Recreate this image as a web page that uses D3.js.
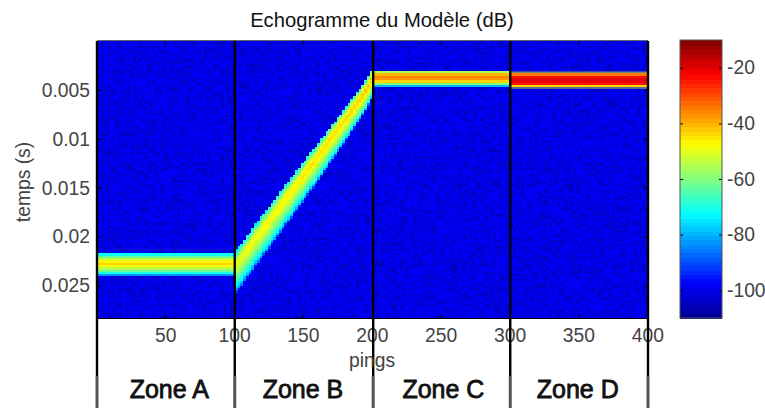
<!DOCTYPE html>
<html>
<head>
<meta charset="utf-8">
<script src="https://cdn.jsdelivr.net/npm/d3@7"></script>
<style>
  html, body { margin: 0; padding: 0; background: #fff; }
  svg { display: block; }
  text { font-family: "Liberation Sans", Arial, sans-serif; }
</style>
</head>
<body>
<script>
// values (times in ms, levels in dB)
const xTicks = [50, 100, 150, 200, 250, 300, 350, 400];
const yTicks = [0.005, 0.01, 0.015, 0.02, 0.025];
const cbTicks = [-20, -40, -60, -80, -100];
const zoneNames = ['Zone A', 'Zone B', 'Zone C', 'Zone D'];
const zoneEdges = [0.5, 100.5, 201, 300.5, 400.5];
const zoneLabelPings = [53, 150, 252, 349.5];

// band start and thickness in each flat zone
const zoneTop = [21.75, 0, 2.95, 3.2];
const zoneWidth = [2.4, 0, 1.85, 1.6];

// level across the band, top to bottom
const profileA = [-74, -66, -60, -54, -48, -44, -44, -48, -54, -60, -66, -72, -85, -100];
const profileB = [-72, -62, -54, -48, -44, -45, -48, -52, -56, -60, -65, -70, -78, -100];
const profileC = [-72, -62, -52, -42, -37, -36, -36, -38, -42, -50, -60, -70, -85, -100];
const profileD = [-66, -48, -30, -25, -22, -20, -20, -20, -21, -23, -26, -34, -60, -100];

// zone B, one value per 2 pings
const rampTop = [21.3, 21.0, 20.7, 20.2, 19.8, 19.5, 19.1, 18.7, 18.4, 18.0,
  17.6, 17.3, 16.9, 16.5, 16.2, 15.8, 15.4, 15.1, 14.7, 14.4,
  14.0, 13.6, 13.3, 12.9, 12.5, 12.2, 11.8, 11.4, 11.1, 10.8,
  10.4, 10.0, 9.6, 9.3, 8.9, 8.5, 8.2, 7.8, 7.5, 7.1,
  6.7, 6.4, 6.0, 5.6, 5.2, 4.9, 4.5, 4.1, 3.6, 3.0];
const rampWidth = [4.5, 4.5, 4.5, 4.5, 4.5, 4.5, 4.5, 4.4, 4.4, 4.4,
  4.4, 4.4, 4.4, 4.3, 4.3, 4.3, 4.3, 4.2, 4.2, 4.2,
  4.2, 4.1, 4.1, 4.1, 4.1, 4.0, 4.0, 4.0, 4.0, 3.9,
  3.9, 3.9, 3.8, 3.8, 3.7, 3.7, 3.6, 3.6, 3.5, 3.5,
  3.4, 3.4, 3.3, 3.3, 3.2, 3.2, 3.1, 3.1, 3.0, 3.0];
const rampGain = [-6, -5, -5, -5, -4, -4, -4, -4, -4, -3,
  -3, -3, -3, -3, -3, -3, -2, -2, -2, -2,
  -2, -2, -2, -2, -1, -1, -1, -1, -1, -1,
  -1, -1, 0, 0, 0, 0, 0, 0, 0, 0,
  1, 1, 1, 1, 1, 1, 2, 2, 2, 2];

// background level, hand-picked speckle
const noiseDb = [-100, -103, -99, -101, -104, -98, -100, -102, -98, -103,
  -99, -101, -100, -105, -98, -102, -99, -103, -100, -98,
  -101, -103, -99, -100, -102, -98, -104, -101, -99, -103,
  -100, -98, -102, -100, -103, -99, -98, -101, -103, -100,
  -105, -99, -101, -98, -102, -100, -103, -99, -100, -103,
  -98, -101, -99, -104, -100, -102, -98, -100, -103, -99,
  -101, -103, -100, -98, -102, -99, -100, -105, -98, -101,
  -103, -100, -99, -102, -98, -103, -100, -101, -98, -103,
  -99, -100, -104, -101, -98, -102, -100, -99, -103, -100,
  -101, -98, -103, -99, -102, -100, -98, -104, -100, -101, -99];

const jetStops = ['#00008f', '#0000ff', '#00ffff', '#ffff00', '#ff0000', '#800000'];
const jetPos = [0, 0.125, 0.375, 0.625, 0.875, 1];

const w = 765;
const h = 408;
const plot = { left: 97, right: 648, top: 41, bottom: 318 };
const bar = { left: 680, right: 722, top: 40, bottom: 318 };
const nCols = 200;
const nRows = 120;
const rowMs = 28.3 / nRows;

const xScale = d3.scaleLinear().domain([0.5, 400.5]).range([plot.left, plot.right]);
const yScale = d3.scaleLinear().domain([0, 0.0283]).range([plot.top, plot.bottom]);
const cbScale = d3.scaleLinear().domain([-110, -10]).range([bar.bottom, bar.top]);

const jet = d3.scaleLinear().domain(jetPos).range(jetStops).interpolate(d3.interpolateRgb);
const jetLevels = d3.range(64);
const colorScale = d3.scaleQuantize().domain([-110, -10]).range(jetLevels.map((i) => jet((i + 0.5) / 64)));

const profiles = [profileA, profileB, profileC, profileD];

const cells = [];
d3.range(nCols).forEach((col) => {
  const zone = Math.floor(col / 50);
  const inRamp = zone === 1;
  const top = inRamp ? rampTop[col - 50] : zoneTop[zone];
  const width = inRamp ? rampWidth[col - 50] : zoneWidth[zone];
  const gain = inRamp ? rampGain[col - 50] : 0;
  const prof = profiles[zone];
  d3.range(nRows).forEach((row) => {
    const ms = (row + 0.5) * rowMs;
    const pos = ((ms - top) / width) * (prof.length - 1);
    const noise = noiseDb[(col * 31 + row * 17 + (col * row) % 7) % noiseDb.length];
    let db = noise;
    if (pos >= 0 && pos <= prof.length - 1) {
      const i = Math.min(Math.floor(pos), prof.length - 2);
      const level = prof[i] + (prof[i + 1] - prof[i]) * (pos - i) + gain;
      db = Math.max(noise, level);
    }
    cells.push({ col, row, db });
  });
});

const svg = d3.select('body').append('svg').attr('width', w).attr('height', h);

const defs = svg.append('defs');
defs.append('filter').attr('id', 'soft')
  .attr('x', 0).attr('y', 0).attr('width', 1).attr('height', 1)
  .append('feGaussianBlur').attr('stdDeviation', 0.55);

const colW = (plot.right - plot.left) / nCols;
const rowH = (plot.bottom - plot.top) / nRows;
svg.append('g').attr('id', 'echogram')
  .attr('shape-rendering', 'crispEdges')
  .attr('filter', 'url(#soft)')
  .selectAll('rect')
  .data(cells)
  .enter()
  .append('rect')
  .attr('x', (d) => xScale(0.5 + d.col * 2))
  .attr('y', (d) => yScale((d.row * rowMs) / 1000))
  .attr('width', colW + 0.5)
  .attr('height', rowH + 0.5)
  .attr('fill', (d) => colorScale(d.db));

// grey fringe along the zone D band
svg.append('g').selectAll('line').data([zoneTop[3], zoneTop[3] + zoneWidth[3]]).enter().append('line')
  .attr('x1', xScale(zoneEdges[3])).attr('x2', plot.right)
  .attr('y1', (d) => yScale(d / 1000)).attr('y2', (d) => yScale(d / 1000))
  .attr('stroke', '#7f8a78').attr('stroke-width', 1.4);

// frame and ticks
const tickCol = '#444';
const styleAxis = (g, labels) => {
  g.select('.domain').remove();
  g.selectAll('.tick line').attr('stroke', '#000');
  if (!labels) g.selectAll('.tick text').remove();
  g.selectAll('.tick text')
    .attr('fill', tickCol)
    .attr('font-size', 19.3)
    .attr('font-family', '"Liberation Sans", Arial, sans-serif');
};

svg.append('g').attr('transform', `translate(0,${plot.bottom})`)
  .call(d3.axisBottom(xScale).tickValues(xTicks).tickSizeInner(-4).tickSizeOuter(0).tickPadding(10))
  .call(styleAxis, true);
svg.append('g').attr('transform', `translate(0,${plot.top})`)
  .call(d3.axisTop(xScale).tickValues(xTicks).tickSizeInner(-4).tickSizeOuter(0))
  .call(styleAxis, false);
svg.append('g').attr('transform', `translate(${plot.left},0)`)
  .call(d3.axisLeft(yScale).tickValues(yTicks).tickFormat((d) => String(d)).tickSizeInner(-5).tickSizeOuter(0).tickPadding(7))
  .call(styleAxis, true);
svg.append('g').attr('transform', `translate(${plot.right},0)`)
  .call(d3.axisRight(yScale).tickValues(yTicks).tickSizeInner(-4).tickSizeOuter(0))
  .call(styleAxis, false);

svg.append('line').attr('x1', plot.left).attr('x2', plot.right).attr('y1', plot.top - 0.5).attr('y2', plot.top - 0.5).attr('stroke', '#666');
svg.append('line').attr('x1', plot.left).attr('x2', plot.right).attr('y1', plot.bottom + 0.5).attr('y2', plot.bottom + 0.5).attr('stroke', '#000');

// zone separators run past the axis
const seps = svg.append('g').attr('id', 'zones');
seps.selectAll('line.upper').data(zoneEdges).enter().append('line')
  .attr('class', 'upper')
  .attr('x1', (d) => xScale(d)).attr('x2', (d) => xScale(d))
  .attr('y1', plot.top).attr('y2', 376)
  .attr('stroke', '#000').attr('stroke-width', 2.4);
seps.selectAll('line.lower').data(zoneEdges).enter().append('line')
  .attr('class', 'lower')
  .attr('x1', (d) => xScale(d)).attr('x2', (d) => xScale(d))
  .attr('y1', 376).attr('y2', h)
  .attr('stroke', '#555').attr('stroke-width', 3);

seps.selectAll('text').data(zoneNames).enter().append('text')
  .attr('x', (d, i) => xScale(zoneLabelPings[i]))
  .attr('y', 398)
  .attr('text-anchor', 'middle')
  .attr('font-size', 25)
  .attr('fill', '#111')
  .attr('stroke', '#111')
  .attr('stroke-width', 0.8)
  .text((d) => d);

// colorbar
svg.append('g').attr('id', 'colorbar')
  .attr('shape-rendering', 'crispEdges')
  .selectAll('rect')
  .data(jetLevels)
  .enter()
  .append('rect')
  .attr('x', bar.left)
  .attr('y', (i) => cbScale(-110 + ((i + 1) * 100) / 64))
  .attr('width', bar.right - bar.left)
  .attr('height', (bar.bottom - bar.top) / 64 + 0.5)
  .attr('fill', (i) => jet((i + 0.5) / 64));

svg.append('g').attr('transform', `translate(${bar.right},0)`)
  .call(d3.axisRight(cbScale).tickValues(cbTicks).tickFormat((d) => String(d)).tickSizeInner(-3).tickSizeOuter(0).tickPadding(5))
  .call(styleAxis, true);
svg.append('g').attr('transform', `translate(${bar.left},0)`)
  .call(d3.axisLeft(cbScale).tickValues(cbTicks).tickSizeInner(-3).tickSizeOuter(0))
  .call(styleAxis, false);

svg.append('rect')
  .attr('x', bar.left).attr('y', bar.top)
  .attr('width', bar.right - bar.left).attr('height', bar.bottom - bar.top)
  .attr('fill', 'none').attr('stroke', '#555');

// titles
svg.append('text')
  .attr('x', 382).attr('y', 27)
  .attr('text-anchor', 'middle')
  .attr('font-size', 20.2)
  .attr('fill', '#111')
  .text('Echogramme du Modèle (dB)');
svg.append('text')
  .attr('x', 372).attr('y', 367)
  .attr('text-anchor', 'middle')
  .attr('font-size', 19.3)
  .attr('fill', tickCol)
  .text('pings');
svg.append('text')
  .attr('transform', 'translate(30,182) rotate(-90)')
  .attr('text-anchor', 'middle')
  .attr('font-size', 19.3)
  .attr('fill', tickCol)
  .text('temps (s)');
</script>
</body>
</html>
